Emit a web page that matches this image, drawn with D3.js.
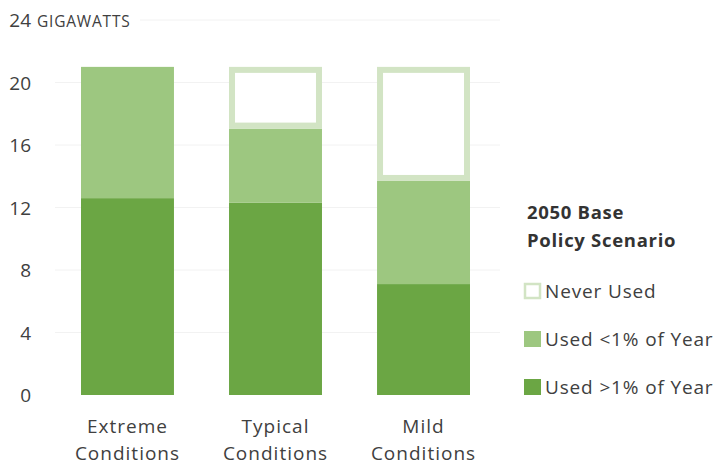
<!DOCTYPE html>
<html lang="en">
<head>
    <meta charset="UTF-8">
    <script src="https://d3js.org/d3.v7.min.js"></script>
    <style>
        body { margin: 0; background: #fff; }
        text { font-family: "Open Sans", "Noto Sans", sans-serif; fill: #404040; }
    </style>
</head>
<body>
<script>
    // chart data
    const categories = ["Extreme|Conditions", "Typical|Conditions", "Mild|Conditions"];
    const usedOver1 = [12.6, 12.3, 7.1];
    const usedUnder1 = [8.4, 4.75, 6.6];
    const neverUsed = [0, 3.95, 7.3];
    const yTicks = [0, 4, 8, 12, 16, 20, 24];
    const seriesNames = ["Never Used", "Used <1% of Year", "Used >1% of Year"];

    const width = 720, height = 465;
    const svg = d3.select("body").append("svg")
        .attr("width", width)
        .attr("height", height);

    const x = d3.scaleBand().domain(categories).range([7, 544]).paddingInner(0.372).paddingOuter(0.5);
    const y = d3.scaleLinear().domain([0, 24]).range([395, 20]);

    // faint gridlines
    svg.append("g").selectAll("line")
        .data(yTicks.filter(d => d > 0))
        .enter().append("line")
        .attr("x1", d => d === 24 ? 140 : 55)
        .attr("x2", 500)
        .attr("y1", d => y(d)).attr("y2", d => y(d))
        .attr("stroke", "#f2f2f2")
        .attr("stroke-width", 1);

    // y tick labels
    svg.append("g").selectAll("text")
        .data(yTicks)
        .enter().append("text")
        .attr("x", 31)
        .attr("y", d => y(d) + 7)
        .attr("text-anchor", "end")
        .style("font-size", "19px")
        .text(d => d);

    svg.append("text")
        .attr("x", 37).attr("y", 27)
        .style("font-size", "15.5px")
        .style("letter-spacing", "0.8px")
        .text("GIGAWATTS");

    const rows = categories.map((c, i) => ({
        cat: c, a: usedOver1[i], b: usedUnder1[i], n: neverUsed[i]
    }));

    const bars = svg.append("g");
    // used >1%
    bars.selectAll(".dark").data(rows).enter().append("rect")
        .attr("x", d => x(d.cat))
        .attr("width", x.bandwidth())
        .attr("y", d => y(d.a))
        .attr("height", d => y(0) - y(d.a))
        .attr("fill", "#6ba644");
    // used <1%
    bars.selectAll(".light").data(rows).enter().append("rect")
        .attr("x", d => x(d.cat))
        .attr("width", x.bandwidth())
        .attr("y", d => y(d.a + d.b))
        .attr("height", d => y(d.a) - y(d.a + d.b))
        .attr("fill", "#9dc780");
    // never used (outlined, stroke kept inside the segment)
    const sw = 6;
    bars.selectAll(".never").data(rows.filter(d => d.n > 0)).enter().append("rect")
        .attr("x", d => x(d.cat) + sw / 2)
        .attr("width", x.bandwidth() - sw)
        .attr("y", d => y(d.a + d.b + d.n) + sw / 2)
        .attr("height", d => y(d.a + d.b) - y(d.a + d.b + d.n) - sw)
        .attr("fill", "#fff")
        .attr("stroke", "#d2e4c4")
        .attr("stroke-width", sw);

    // category labels
    const labels = svg.append("g").selectAll("text")
        .data(categories)
        .enter().append("text")
        .attr("text-anchor", "middle")
        .style("font-size", "19px")
        .style("letter-spacing", "1px");
    labels.append("tspan").attr("x", d => x(d) + x.bandwidth() / 2).attr("y", 433).text(d => d.split("|")[0]);
    labels.append("tspan").attr("x", d => x(d) + x.bandwidth() / 2).attr("y", 460).text(d => d.split("|")[1]);

    // legend
    const legend = svg.append("g").attr("transform", "translate(525,0)");
    legend.selectAll(".title").data(["2050 Base", "Policy Scenario"]).enter().append("text")
        .attr("x", 2).attr("y", (d, i) => 219 + i * 28)
        .style("font-size", "18.5px").style("font-weight", "bold").style("fill", "#333")
        .style("letter-spacing", "0.7px")
        .text(d => d);

    const legendFills = ["#fff", "#9dc780", "#6ba644"];
    const legendStrokes = ["#d2e4c4", "none", "none"];
    const item = legend.selectAll(".item").data(seriesNames).enter().append("g")
        .attr("transform", (d, i) => `translate(0,${291 + i * 48})`);
    item.append("rect")
        .attr("x", d => d === "Never Used" ? 0 : -1)
        .attr("y", d => d === "Never Used" ? -7 : -8)
        .attr("width", d => d === "Never Used" ? 15 : 17)
        .attr("height", d => d === "Never Used" ? 14 : 16)
        .attr("fill", (d, i) => legendFills[i])
        .attr("stroke", (d, i) => legendStrokes[i])
        .attr("stroke-width", 2.5);
    item.append("text")
        .attr("x", 20).attr("y", 7)
        .style("font-size", "19px")
        .style("letter-spacing", "0.85px")
        .text(d => d);
</script>
</body>
</html>
